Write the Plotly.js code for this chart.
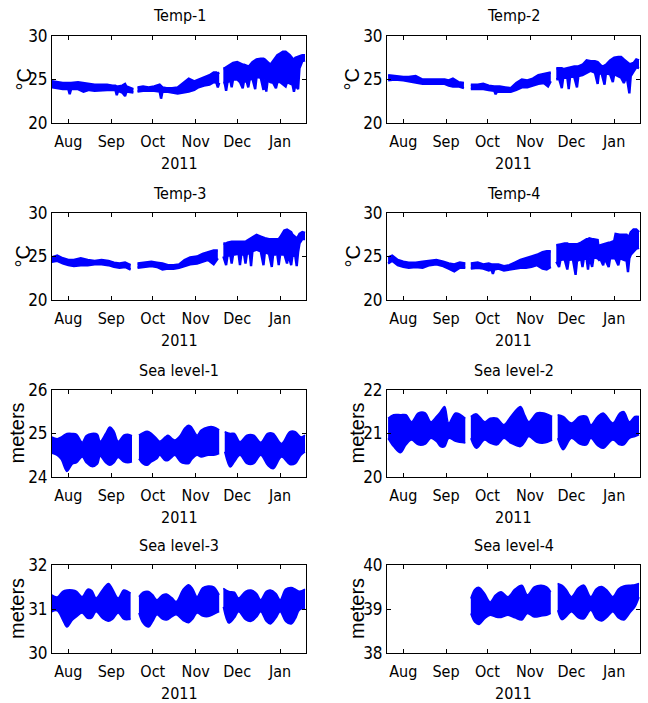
<!DOCTYPE html>
<html>
<head>
<meta charset="utf-8">
<script src="https://cdn.plot.ly/plotly-3.0.1.min.js"></script>
<style>html,body{margin:0;padding:0;background:#fff;}#chart{width:648px;height:703px;}</style>
</head>
<body>
<div id="chart"></div>
<script>
// ---------- tick labels ----------
const monthTickVals = ['2011-08-01','2011-09-01','2011-10-01','2011-11-01','2011-12-01','2012-01-01'];
const monthTickText = ['Aug','Sep','Oct','Nov','Dec','Jan'];
const yearLabel = '2011';

// ---------- Temp-1 (upper / lower envelope, null = data gap) ----------
const temp1Dates = ['2011-07-20','2011-07-24','2011-07-28','2011-08-01','2011-08-02','2011-08-03','2011-08-08','2011-08-12','2011-08-16','2011-08-20','2011-08-25','2011-08-29','2011-09-02','2011-09-04','2011-09-05','2011-09-06','2011-09-09','2011-09-11','2011-09-12','2011-09-15','2011-09-17',null,
 '2011-09-20','2011-09-24','2011-09-28','2011-10-02','2011-10-06','2011-10-07','2011-10-08','2011-10-11','2011-10-15','2011-10-19','2011-10-23','2011-10-27','2011-10-31','2011-11-03','2011-11-07','2011-11-11','2011-11-14','2011-11-16','2011-11-17','2011-11-18',null,
 '2011-11-21','2011-11-22','2011-11-23','2011-11-24','2011-11-26','2011-11-27','2011-11-28','2011-12-01','2011-12-03','2011-12-05','2011-12-06','2011-12-08','2011-12-09','2011-12-10','2011-12-12','2011-12-14','2011-12-15','2011-12-18','2011-12-20','2011-12-21','2011-12-22','2011-12-23','2011-12-25','2011-12-27','2011-12-29','2011-12-30','2012-01-01','2012-01-03','2012-01-05','2012-01-06','2012-01-08','2012-01-10','2012-01-11','2012-01-12','2012-01-14','2012-01-15','2012-01-17','2012-01-19'];
const temp1Hi = [24.8,24.7,24.6,24.6,24.6,24.6,24.7,24.6,24.5,24.4,24.4,24.4,24.3,24.3,24.2,24.2,24.3,24.5,24.2,24.0,23.9,null,
 24.1,24.2,24.1,24.2,24.4,24.2,24.1,24.0,24.0,24.1,24.6,25.1,24.8,25.0,25.3,25.5,25.8,25.8,25.7,25.8,null,
 26.3,26.3,26.4,26.5,26.7,26.8,26.9,27.0,26.8,26.7,26.7,26.5,26.5,26.6,27.0,27.2,27.3,27.4,27.4,27.3,27.2,27.0,26.7,27.2,27.6,27.8,28.0,28.2,28.2,28.1,27.8,27.4,27.3,27.5,27.6,27.7,27.8,27.8];
const temp1Lo = [24.1,24.0,23.9,23.9,23.3,23.9,23.9,23.6,23.8,23.7,23.8,23.8,23.8,23.8,23.2,23.7,23.5,23.1,23.6,23.5,23.5,null,
 23.6,23.7,23.7,23.7,23.6,22.8,23.6,23.6,23.5,23.4,23.5,23.6,23.8,24.1,24.3,24.4,24.7,24.6,24.1,24.6,null,
 24.6,24.6,23.7,24.7,24.9,24.1,25.0,25.0,24.7,24.0,24.9,24.7,24.1,25.0,25.1,23.9,25.3,25.2,23.8,25.0,23.6,24.9,24.7,24.6,24.0,24.7,24.7,24.5,24.2,24.7,24.5,24.4,23.6,24.3,23.9,26.3,27.1,27.2];

// ---------- Temp-2 ----------
const temp2Dates = ['2011-07-21','2011-07-26','2011-08-01','2011-08-05','2011-08-10','2011-08-15','2011-08-20','2011-08-25','2011-08-31','2011-09-03','2011-09-06','2011-09-10','2011-09-14',null,
 '2011-09-19','2011-09-24','2011-09-28','2011-10-02','2011-10-06','2011-10-07','2011-10-08','2011-10-10','2011-10-14','2011-10-18','2011-10-22','2011-10-26','2011-10-30','2011-11-03','2011-11-07','2011-11-11','2011-11-14','2011-11-16',null,
 '2011-11-20','2011-11-22','2011-11-24','2011-11-25','2011-11-28','2011-11-29','2011-11-30','2011-12-03','2011-12-05','2011-12-06','2011-12-09','2011-12-12','2011-12-15','2011-12-18','2011-12-20','2011-12-21','2011-12-23','2011-12-25','2011-12-26','2011-12-29','2011-12-31','2012-01-01','2012-01-04','2012-01-06','2012-01-08','2012-01-10','2012-01-12','2012-01-13','2012-01-15','2012-01-17','2012-01-19'];
const temp2Hi = [25.5,25.4,25.3,25.3,25.4,25.0,25.0,25.0,25.0,24.9,25.1,24.7,24.6,null,
 24.4,24.4,24.5,24.3,24.2,24.2,24.2,24.2,24.1,24.0,24.6,25.0,24.9,25.1,25.5,25.6,25.7,25.8,null,
 26.3,26.3,26.3,26.2,26.3,26.4,26.4,26.5,26.5,26.5,26.7,27.2,27.1,27.1,27.0,26.8,26.5,26.6,26.7,27.2,27.4,27.5,27.6,27.6,27.3,27.0,26.8,26.8,26.9,27.3,27.2];
const temp2Lo = [24.9,25.0,24.9,24.8,24.7,24.5,24.5,24.5,24.5,24.3,24.2,24.2,24.0,null,
 23.9,23.9,23.9,23.8,23.7,23.3,23.6,23.6,23.6,23.6,23.8,24.1,24.1,24.3,24.5,24.6,24.2,24.8,null,
 25.0,25.1,24.0,25.2,25.2,23.9,25.3,25.3,24.1,25.4,25.5,25.8,26.0,25.8,24.5,25.8,25.6,24.4,25.7,25.6,24.7,25.6,25.4,25.2,24.6,25.4,23.4,25.4,25.9,26.4,26.3];

// ---------- Temp-3 ----------
const temp3Dates = ['2011-07-20','2011-07-24','2011-07-28','2011-08-01','2011-08-05','2011-08-10','2011-08-15','2011-08-20','2011-08-25','2011-08-30','2011-09-03','2011-09-07','2011-09-11','2011-09-15',null,
 '2011-09-20','2011-09-25','2011-09-30','2011-10-04','2011-10-08','2011-10-12','2011-10-16','2011-10-20','2011-10-24','2011-10-28','2011-11-02','2011-11-06','2011-11-10','2011-11-14','2011-11-17',null,
 '2011-11-21','2011-11-23','2011-11-24','2011-11-26','2011-11-27','2011-11-28','2011-12-02','2011-12-03','2011-12-04','2011-12-06','2011-12-07','2011-12-08','2011-12-10','2011-12-11','2011-12-12','2011-12-15','2011-12-18','2011-12-20','2011-12-21','2011-12-24','2011-12-26','2011-12-27','2011-12-30','2011-12-31','2012-01-01','2012-01-04','2012-01-06','2012-01-07','2012-01-09','2012-01-10','2012-01-12','2012-01-13','2012-01-14','2012-01-15','2012-01-17','2012-01-19'];
const temp3Hi = [24.9,25.1,24.8,24.6,24.6,24.8,24.6,24.5,24.6,24.5,24.3,24.2,24.3,24.0,null,
 24.2,24.3,24.4,24.3,24.2,24.0,24.0,24.1,24.6,24.9,25.0,25.3,25.5,25.7,25.7,null,
 26.5,26.5,26.6,26.7,26.7,26.7,26.7,26.7,26.7,26.7,26.7,26.8,27.0,27.1,27.1,27.5,27.3,27.1,27.1,27.0,27.0,27.0,27.0,27.0,27.2,28.0,28.1,28.0,27.8,27.5,27.2,27.1,27.3,27.6,27.8,27.7];
const temp3Lo = [24.4,24.5,24.2,24.0,23.9,24.0,24.0,24.1,24.1,24.0,23.8,23.7,23.8,23.5,null,
 23.7,23.8,23.9,23.8,23.5,23.6,23.6,23.7,23.9,24.1,24.2,24.4,24.6,24.1,24.8,null,
 25.0,24.0,25.1,25.2,24.2,25.2,25.3,24.0,25.3,25.2,24.2,25.3,25.5,23.9,25.6,25.8,25.6,24.0,25.5,25.3,23.8,25.3,25.2,24.0,25.2,25.3,24.2,25.2,24.0,25.2,25.0,23.9,25.5,26.5,27.0,27.0];

// ---------- Temp-4 ----------
const temp4Dates = ['2011-07-21','2011-07-24','2011-07-28','2011-08-01','2011-08-05','2011-08-10','2011-08-15','2011-08-20','2011-08-25','2011-08-30','2011-09-03','2011-09-07','2011-09-11','2011-09-15',null,
 '2011-09-19','2011-09-24','2011-09-28','2011-10-02','2011-10-04','2011-10-05','2011-10-06','2011-10-09','2011-10-13','2011-10-17','2011-10-21','2011-10-25','2011-10-29','2011-11-02','2011-11-06','2011-11-10','2011-11-13','2011-11-16',null,
 '2011-11-20','2011-11-22','2011-11-23','2011-11-26','2011-11-28','2011-11-29','2011-12-02','2011-12-04','2011-12-05','2011-12-08','2011-12-09','2011-12-10','2011-12-12','2011-12-13','2011-12-14','2011-12-16','2011-12-17','2011-12-20','2011-12-21','2011-12-22','2011-12-24','2011-12-25','2011-12-28','2011-12-29','2012-01-01','2012-01-02','2012-01-04','2012-01-05','2012-01-08','2012-01-10','2012-01-11','2012-01-12','2012-01-13','2012-01-15','2012-01-17','2012-01-19'];
const temp4Hi = [24.9,25.1,24.6,24.4,24.3,24.3,24.4,24.5,24.6,24.4,24.2,24.1,24.3,24.2,null,
 24.2,24.3,24.1,24.2,24.1,24.1,24.1,24.1,23.9,24.0,24.3,24.6,24.8,25.0,25.2,25.5,25.6,25.6,null,
 26.3,26.4,26.4,26.5,26.5,26.4,26.4,26.4,26.4,26.6,26.7,26.8,27.0,27.0,27.1,27.0,27.0,26.9,25.6,26.3,26.4,26.5,26.6,26.6,26.8,27.6,27.5,27.5,27.5,27.5,27.3,27.4,27.8,28.1,28.1,27.8];
const temp4Lo = [24.2,24.5,24.0,23.8,23.7,23.8,23.7,24.0,24.1,23.9,23.6,23.3,23.7,23.7,null,
 23.6,23.7,23.6,23.4,23.5,23.0,23.5,23.6,23.4,23.5,23.6,23.7,23.7,23.8,24.0,23.6,23.5,23.8,null,
 24.4,23.8,24.6,24.7,23.5,24.6,24.7,22.9,24.5,24.7,23.8,24.8,24.7,23.5,24.9,23.8,24.9,24.8,24.6,24.7,24.0,24.8,23.8,24.8,24.8,24.7,24.0,24.8,24.6,24.5,23.2,24.8,25.2,25.6,25.9,26.0];

// ---------- Sea level-1 ----------
const sea1Dates = ['2011-07-20','2011-07-24','2011-07-27','2011-07-31','2011-08-04','2011-08-07','2011-08-11','2011-08-14','2011-08-18','2011-08-22','2011-08-24','2011-08-28','2011-08-31','2011-09-03','2011-09-06','2011-09-10','2011-09-13','2011-09-16',null,
 '2011-09-21','2011-09-24','2011-09-27','2011-09-30','2011-10-04','2011-10-06','2011-10-10','2011-10-12','2011-10-15','2011-10-17','2011-10-21','2011-10-24','2011-10-27','2011-10-29','2011-11-02','2011-11-05','2011-11-10','2011-11-14','2011-11-18',null,
 '2011-11-22','2011-11-26','2011-11-29','2011-12-03','2011-12-08','2011-12-13','2011-12-18','2011-12-23','2011-12-27','2012-01-02','2012-01-08','2012-01-12','2012-01-16','2012-01-19'];
const sea1Hi = [24.92,24.88,24.92,25.00,25.00,24.98,24.80,24.95,25.00,24.98,24.82,25.00,25.15,25.05,24.82,24.96,24.98,24.95,null,
 24.96,25.02,25.05,25.00,24.88,24.82,24.92,24.96,24.88,24.85,24.96,25.12,25.19,25.15,24.96,25.08,25.15,25.15,25.08,null,
 25.04,25.00,25.00,24.81,24.96,24.96,24.80,25.00,25.00,24.77,25.04,25.04,24.92,24.96];
const sea1Lo = [24.55,24.50,24.40,24.13,24.30,24.33,24.46,24.33,24.24,24.30,24.48,24.33,24.27,24.33,24.45,24.35,24.33,24.35,null,
 24.42,24.30,24.27,24.35,24.42,24.50,24.38,24.38,24.46,24.50,24.35,24.31,24.31,24.40,24.50,24.46,24.50,24.50,24.54,null,
 24.58,24.23,24.35,24.50,24.31,24.31,24.50,24.27,24.19,24.46,24.29,24.31,24.50,24.58];

// ---------- Sea level-2 ----------
const sea2Dates = ['2011-07-21','2011-07-25','2011-07-30','2011-08-03','2011-08-07','2011-08-12','2011-08-17','2011-08-21','2011-08-25','2011-08-28','2011-08-31','2011-09-03','2011-09-08','2011-09-15',null,
 '2011-09-19','2011-09-23','2011-09-29','2011-10-03','2011-10-08','2011-10-13','2011-10-18','2011-10-25','2011-10-28','2011-10-31','2011-11-06','2011-11-11','2011-11-17',null,
 '2011-11-21','2011-11-25','2011-12-01','2011-12-07','2011-12-12','2011-12-15','2011-12-20','2011-12-24','2011-12-31','2012-01-05','2012-01-08','2012-01-12','2012-01-16','2012-01-19'];
const sea2Hi = [21.35,21.43,21.43,21.43,21.27,21.47,21.47,21.27,21.39,21.50,21.62,21.24,21.47,21.35,null,
 21.39,21.45,21.27,21.35,21.35,21.20,21.39,21.62,21.43,21.27,21.47,21.47,21.39,null,
 21.43,21.39,21.24,21.39,21.39,21.20,21.39,21.47,21.24,21.47,21.50,21.27,21.39,21.39];
const sea2Lo = [20.89,20.70,20.56,20.74,20.85,20.74,20.76,20.89,20.82,20.70,20.70,20.89,20.82,20.78,null,
 20.89,20.66,20.85,20.78,20.74,20.89,20.78,20.70,20.80,20.93,20.80,20.78,20.85,null,
 20.89,20.63,20.89,20.76,20.74,20.89,20.72,20.66,20.85,20.74,20.74,20.89,20.93,20.97];

// ---------- Sea level-3 ----------
const sea3Dates = ['2011-07-20','2011-07-24','2011-07-28','2011-07-31','2011-08-04','2011-08-07','2011-08-11','2011-08-15','2011-08-18','2011-08-21','2011-08-26','2011-08-30','2011-09-02','2011-09-06','2011-09-10','2011-09-13','2011-09-15',null,
 '2011-09-21','2011-09-24','2011-09-28','2011-10-01','2011-10-04','2011-10-08','2011-10-11','2011-10-15','2011-10-18','2011-10-23','2011-10-27','2011-10-30','2011-11-02','2011-11-06','2011-11-10','2011-11-14','2011-11-18',null,
 '2011-11-21','2011-11-25','2011-11-29','2011-12-02','2011-12-07','2011-12-11','2011-12-15','2011-12-18','2011-12-22','2011-12-25','2011-12-29','2012-01-01','2012-01-05','2012-01-09','2012-01-12','2012-01-15','2012-01-19'];
const sea3Hi = [31.32,31.27,31.40,31.43,31.43,31.40,31.28,31.45,31.42,31.25,31.45,31.58,31.45,31.25,31.43,31.40,31.36,null,
 31.28,31.38,31.40,31.32,31.21,31.32,31.34,31.25,31.17,31.45,31.55,31.45,31.28,31.48,31.52,31.50,31.32,null,
 31.47,31.40,31.38,31.25,31.40,31.43,31.35,31.21,31.40,31.43,31.35,31.21,31.45,31.49,31.45,31.40,31.45];
const sea3Lo = [30.94,30.96,30.75,30.59,30.75,30.83,30.91,30.79,30.80,30.94,30.78,30.72,30.77,30.91,30.77,30.76,30.77,null,
 30.91,30.68,30.59,30.72,30.87,30.77,30.75,30.83,30.87,30.74,30.69,30.78,30.91,30.84,30.83,30.88,30.94,null,
 31.05,30.68,30.80,30.94,30.76,30.72,30.82,30.94,30.72,30.66,30.80,30.94,30.72,30.66,30.78,30.98,31.02];

// ---------- Sea level-4 ----------
const sea4Dates = ['2011-09-19','2011-09-22','2011-09-25','2011-09-29','2011-10-03','2011-10-07','2011-10-11','2011-10-16','2011-10-21','2011-10-26','2011-10-30','2011-11-04','2011-11-09','2011-11-13','2011-11-16',null,
 '2011-11-21','2011-11-24','2011-11-27','2011-12-01','2011-12-06','2011-12-10','2011-12-15','2011-12-19','2011-12-23','2011-12-27','2011-12-31','2012-01-04','2012-01-08','2012-01-13','2012-01-16','2012-01-19'];
const sea4Hi = [39.24,39.45,39.49,39.35,39.16,39.32,39.39,39.28,39.45,39.54,39.32,39.50,39.54,39.50,39.39,null,
 39.58,39.54,39.45,39.28,39.48,39.54,39.28,39.46,39.51,39.42,39.28,39.45,39.52,39.54,39.55,39.58];
const sea4Lo = [38.90,38.70,38.65,38.78,38.86,38.82,38.81,38.86,38.80,38.75,38.90,38.82,38.84,38.86,38.90,null,
 38.97,38.76,38.82,38.94,38.80,38.78,38.97,38.78,38.73,38.82,38.94,38.80,38.75,38.94,39.05,39.27];

// ---------- panel text ----------
const panelTitles = ['Temp-1','Temp-2','Temp-3','Temp-4','Sea level-1','Sea level-2','Sea level-3','Sea level-4'];
const yLabels = ['°C','°C','°C','°C','meters','meters','meters','meters'];
const yTicks = [[20,25,30],[20,25,30],[20,25,30],[20,25,30],[24,25,26],[20,21,22],[30,31,32],[38,39,40]];

// ---------- drawing ----------
const W = 648, H = 703;
const BLUE = '#0000ff';
const NARROW = "'Liberation Sans Narrow', 'Arial Narrow', 'DejaVu Sans Condensed', 'Liberation Sans', sans-serif";
const REG = "'Liberation Sans', Arial, sans-serif";
const xRange = ['2011-07-20 05:00', '2012-01-19 17:00'];

const series = [
  [temp1Dates, temp1Hi, temp1Lo], [temp2Dates, temp2Hi, temp2Lo],
  [temp3Dates, temp3Hi, temp3Lo], [temp4Dates, temp4Hi, temp4Lo],
  [sea1Dates, sea1Hi, sea1Lo], [sea2Dates, sea2Hi, sea2Lo],
  [sea3Dates, sea3Hi, sea3Lo], [sea4Dates, sea4Hi, sea4Lo]
];
const colPx = [[52, 306], [387, 640]];
const rowPx = [[36, 123], [213, 300], [390, 477], [565, 653]];
const yLabelOffset = [[28, 35], [30, 35], [35, 30], [35, 30]];

function splitSegments(d, hi, lo) {
  const segs = []; let cur = {x: [], hi: [], lo: []};
  for (let i = 0; i < d.length; i++) {
    if (d[i] === null) { if (cur.x.length) segs.push(cur); cur = {x: [], hi: [], lo: []}; }
    else { cur.x.push(d[i]); cur.hi.push(hi[i]); cur.lo.push(lo[i]); }
  }
  if (cur.x.length) segs.push(cur);
  return segs;
}

const traces = [];
const layout = {
  width: W, height: H, margin: {l: 0, r: 0, t: 0, b: 0},
  paper_bgcolor: '#fff', plot_bgcolor: '#fff', showlegend: false,
  annotations: []
};

for (let p = 0; p < 8; p++) {
  const row = Math.floor(p / 2), col = p % 2;
  const n = p + 1;
  const xa = 'x' + (n === 1 ? '' : n), ya = 'y' + (n === 1 ? '' : n);
  const xKey = 'xaxis' + (n === 1 ? '' : n), yKey = 'yaxis' + (n === 1 ? '' : n);
  const isSea = p >= 4;
  const [d, hi, lo] = series[p];
  splitSegments(d, hi, lo).forEach(s => {
    const line = {color: BLUE, width: isSea ? 1.6 : 2.4, shape: isSea ? 'spline' : 'linear', smoothing: 1};
    traces.push({x: s.x, y: s.lo, xaxis: xa, yaxis: ya, mode: 'lines', line: line, hoverinfo: 'skip'});
    traces.push({x: s.x, y: s.hi, xaxis: xa, yaxis: ya, mode: 'lines', line: line, fill: 'tonexty', fillcolor: BLUE, hoverinfo: 'skip'});
  });
  const xd = [colPx[col][0] / W, colPx[col][1] / W];
  const yd = [1 - rowPx[row][1] / H, 1 - rowPx[row][0] / H];
  const yt = yTicks[p];
  layout[xKey] = {
    domain: xd, anchor: ya, type: 'date', range: xRange,
    tickmode: 'array', tickvals: monthTickVals, ticktext: monthTickText,
    ticks: 'inside', ticklen: 4, tickcolor: '#000', mirror: 'ticks',
    showline: true, linecolor: '#000', linewidth: 1, showgrid: false, zeroline: false,
    tickfont: {family: NARROW, size: 16, color: '#000'}, ticklabelstandoff: 4, fixedrange: true
  };
  layout[yKey] = {
    domain: yd, anchor: xa, range: [yt[0], yt[2]],
    tickmode: 'array', tickvals: yt, ticktext: yt.map(String),
    ticks: 'inside', ticklen: 4, tickcolor: '#000', mirror: 'ticks',
    showline: true, linecolor: '#000', linewidth: 1, showgrid: false, zeroline: false,
    tickfont: {family: NARROW, size: 17, color: '#000'}, fixedrange: true
  };
  const xc = (xd[0] + xd[1]) / 2;
  layout.annotations.push({text: panelTitles[p], xref: 'paper', yref: 'paper', x: xc, y: yd[1],
    xanchor: 'center', yanchor: 'middle', yshift: 20, showarrow: false,
    font: {family: NARROW, size: 16, color: '#000'}});
  layout.annotations.push({text: yearLabel, xref: 'paper', yref: 'paper', x: xc, y: yd[0],
    xanchor: 'center', yanchor: 'middle', yshift: -40, showarrow: false,
    font: {family: NARROW, size: 16, color: '#000'}});
  layout.annotations.push({text: yLabels[p], xref: 'paper', yref: 'paper', x: xd[0], y: (yd[0] + yd[1]) / 2,
    xanchor: 'center', yanchor: 'middle', xshift: -yLabelOffset[row][col], textangle: -90, showarrow: false,
    font: {family: REG, size: 20, color: '#000'}});
}

Plotly.newPlot('chart', traces, layout, {staticPlot: true, displayModeBar: false});
</script>
</body>
</html>
